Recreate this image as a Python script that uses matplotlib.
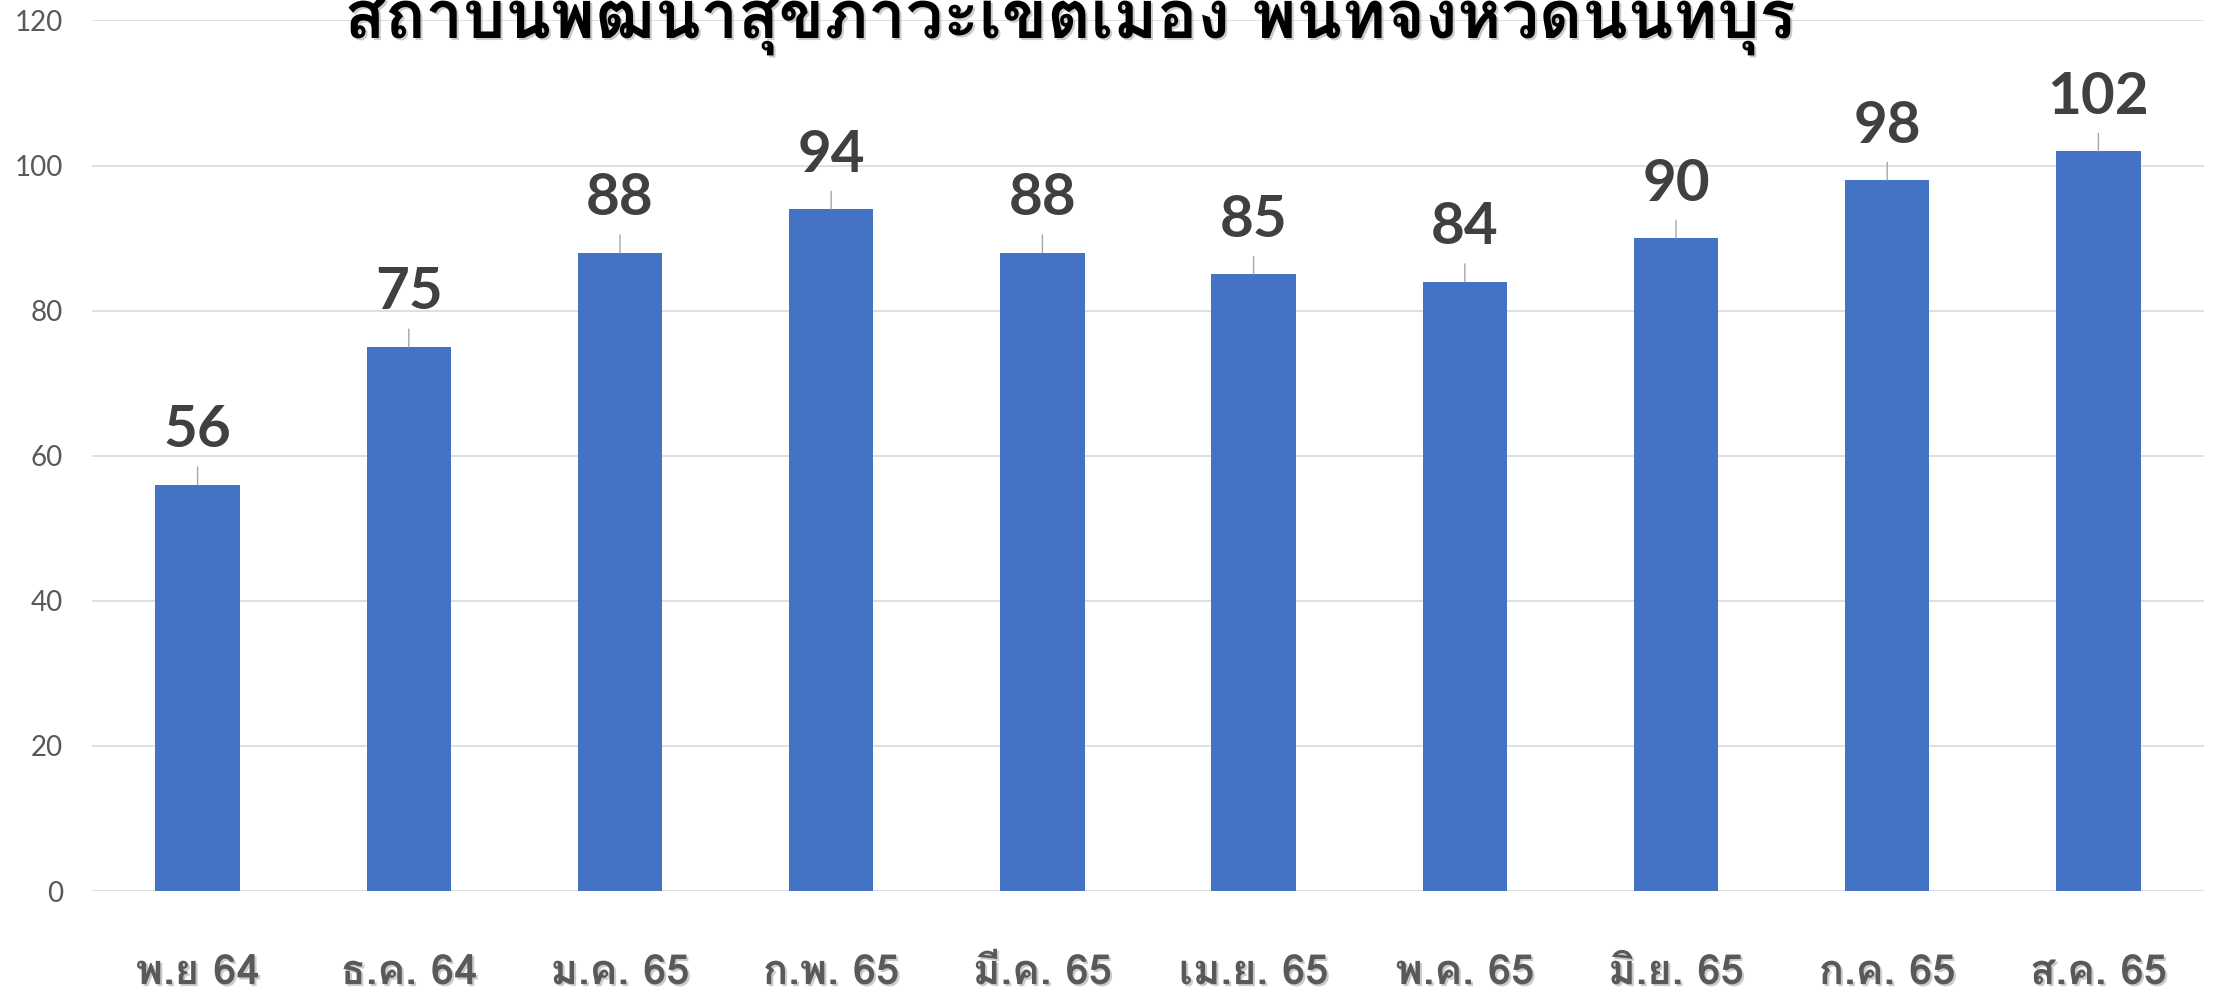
import matplotlib
matplotlib.use("Agg")
import matplotlib.pyplot as plt
from matplotlib import patheffects as pe

# ---- data ----
categories = ["พ.ย 64", "ธ.ค. 64", "ม.ค. 65", "ก.พ. 65", "มี.ค. 65",
              "เม.ย. 65", "พ.ค. 65", "มิ.ย. 65", "ก.ค. 65", "ส.ค. 65"]
values = [56, 75, 88, 94, 88, 85, 84, 90, 98, 102]
yticks = [0, 20, 40, 60, 80, 100, 120]
title = "สถาบันพัฒนาสุขภาวะเขตเมือง พื้นที่จังหวัดนนทบุรี"

W, H = 2216, 993
fig = plt.figure(figsize=(W / 100, H / 100), dpi=100)
ax = fig.add_axes([92 / W, 1 - 891 / H, (2204 - 92) / W, (891 - 20.5) / H])

x = list(range(len(categories)))
ax.bar(x, values, width=0.4, color="#4472C4", zorder=3)
ax.set_xlim(-0.5, len(categories) - 0.5)
ax.set_ylim(0, 120)

for s in ax.spines.values():
    s.set_visible(False)
ax.set_yticks(yticks)
ax.yaxis.grid(True, color="#D9D9D9", linewidth=1.2, zorder=0)
ax.set_axisbelow(True)
ax.tick_params(axis="y", length=0, pad=21, labelsize=20, labelcolor="#595959")
for lbl in ax.get_yticklabels():
    lbl.set_fontfamily(["Lato", "DejaVu Sans"])

shadow = [pe.SimplePatchShadow(offset=(1.5, -1.5), shadow_rgbFace="#999999", alpha=0.5), pe.Normal()]
ax.set_xticks(x, categories)
ax.tick_params(axis="x", length=0, pad=67)
for lbl in ax.get_xticklabels():
    lbl.set_fontfamily(["Loma", "DejaVu Sans"])
    lbl.set_fontweight("bold")
    lbl.set_fontsize(30)
    lbl.set_color("#595959")
    lbl.set_verticalalignment("baseline")
    lbl.set_path_effects(shadow)

for xi, v in zip(x, values):
    ax.annotate(str(v), xy=(xi, v), xytext=(0, 27), textcoords="offset points",
                ha="center", va="baseline", fontsize=42, fontweight="bold",
                family=["Lato", "DejaVu Sans"], color="#404040",
                arrowprops=dict(arrowstyle="-", color="#A6A6A6", lw=1.0,
                                shrinkA=5, shrinkB=0))

fig.text(1070 / W, 1 - 38 / H, title, ha="center", va="baseline",
         fontsize=48, fontweight="bold", family=["Loma", "DejaVu Sans"],
         color="black", path_effects=shadow)

fig.savefig("out.png", dpi=100)
